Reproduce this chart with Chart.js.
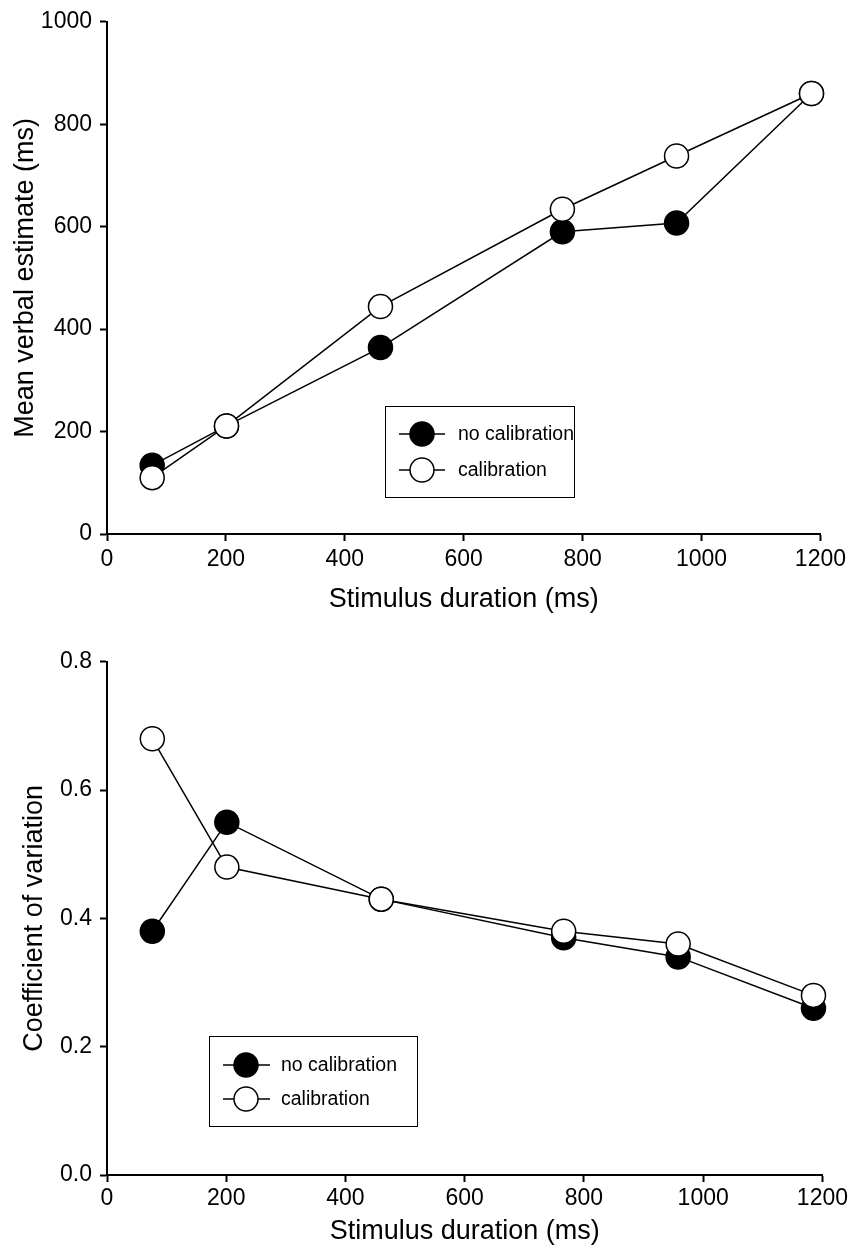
<!DOCTYPE html>
<html><head><meta charset="utf-8">
<script src="https://cdn.jsdelivr.net/npm/chart.js@4.4.1/dist/chart.umd.min.js"></script>
<style>
html,body{margin:0;padding:0;background:#fff;overflow:hidden;width:851px;height:1249px;}
canvas{position:absolute;left:0;}
</style></head><body>
<canvas id="c1" width="851" height="640" style="top:0px;width:851px;height:640px"></canvas>
<canvas id="c2" width="851" height="609" style="top:640px;width:851px;height:609px"></canvas>
<script>
// ---- data ----
const durations = [76, 201, 460, 766, 958, 1185];
const seriesLabels = ['no calibration', 'calibration'];
const estimateNoCal = [134, 211, 364, 590, 607, 860];
const estimateCal   = [110, 211, 444, 634, 738, 860];
const cvNoCal = [0.38, 0.55, 0.43, 0.37, 0.34, 0.26];
const cvCal   = [0.68, 0.48, 0.43, 0.38, 0.36, 0.28];
const xTicks = [0, 200, 400, 600, 800, 1000, 1200];
const yTicksTop = [0, 200, 400, 600, 800, 1000];
const yTicksBottom = [0.0, 0.2, 0.4, 0.6, 0.8];

const FONT = '"Liberation Sans", Arial, Helvetica, sans-serif';

const boxLegend = {
  id: 'boxLegend',
  afterDraw(chart, args, o) {
    const ctx = chart.ctx;
    ctx.save();
    ctx.strokeStyle = '#000';
    ctx.lineWidth = 1;
    ctx.strokeRect(o.left + 0.5, o.top + 0.5, o.width, o.height);
    chart.data.datasets.forEach((ds, i) => {
      const y = o.rows[i];
      ctx.beginPath();
      ctx.lineWidth = ds.borderWidth;
      ctx.strokeStyle = ds.borderColor;
      ctx.moveTo(o.lineX0, y); ctx.lineTo(o.lineX1, y);
      ctx.stroke();
      ctx.beginPath();
      ctx.arc(o.markerX, y, ds.pointRadius, 0, Math.PI * 2);
      ctx.fillStyle = ds.pointBackgroundColor;
      ctx.fill();
      ctx.lineWidth = ds.pointBorderWidth;
      ctx.strokeStyle = ds.pointBorderColor;
      ctx.stroke();
      ctx.fillStyle = '#000';
      ctx.font = o.fontSize + 'px ' + FONT;
      ctx.textAlign = 'left';
      ctx.textBaseline = 'middle';
      ctx.fillText(ds.label, o.textX, y + 1);
    });
    ctx.restore();
  }
};

function ds(label, xs, ys, fill, order) {
  return {
    label,
    data: xs.map((x, i) => ({x, y: ys[i]})),
    borderColor: '#000',
    borderWidth: 1.5,
    pointRadius: 12,
    pointHoverRadius: 12,
    pointBorderWidth: 1.5,
    pointBorderColor: '#000',
    pointBackgroundColor: fill,
    backgroundColor: fill,
    fill: false,
    tension: 0,
    clip: false,
    order
  };
}

function makeChart(id, noCal, cal, yTicks, yTitle, fmt, cfg) {
  new Chart(document.getElementById(id), {
    type: 'line',
    data: {
      datasets: [
        ds(seriesLabels[0], durations, noCal, '#000', 1),
        ds(seriesLabels[1], durations, cal, '#fff', 0)
      ]
    },
    plugins: [boxLegend],
    options: {
      responsive: false,
      animation: false,
      events: [],
      devicePixelRatio: 1,
      layout: {padding: {left: cfg.padLeft, top: cfg.padTop, right: 28, bottom: 0}},
      plugins: {
        legend: {display: false},
        tooltip: {enabled: false},
        boxLegend: cfg.legend
      },
      scales: {
        x: {
          type: 'linear', min: xTicks[0], max: xTicks[xTicks.length - 1],
          afterBuildTicks(s) { s.ticks = xTicks.map(v => ({value: v})); },
          ticks: {color: '#000', font: {size: 23, family: FONT}, padding: cfg.xTickPad, maxRotation: 0, autoSkip: false, callback: v => String(v)},
          grid: {display: true, drawOnChartArea: false, drawTicks: true, tickLength: 7, tickWidth: 2, tickColor: '#000'},
          border: {display: true, color: '#000', width: 2},
          title: {display: true, text: 'Stimulus duration (ms)', color: '#000', font: {size: 27, family: FONT}, padding: {top: 0, bottom: cfg.xTitlePad}},
          afterFit(s) { s.height = cfg.xHeight; }
        },
        y: {
          type: 'linear', min: yTicks[0], max: yTicks[yTicks.length - 1],
          afterBuildTicks(s) { s.ticks = yTicks.map(v => ({value: v})); },
          ticks: {color: '#000', font: {size: 23, family: FONT}, padding: 8, callback: fmt},
          grid: {display: true, drawOnChartArea: false, drawTicks: true, tickLength: 7, tickWidth: 2, tickColor: '#000'},
          border: {display: true, color: '#000', width: 2},
          title: {display: true, text: yTitle, color: '#000', font: {size: 27, family: FONT}, padding: {top: 0, bottom: 0}},
          afterFit(s) { s.width = 107 - cfg.padLeft; }
        }
      }
    }
  });
}

makeChart('c1', estimateNoCal, estimateCal, yTicksTop, 'Mean verbal estimate (ms)', v => String(v), {
  padLeft: 9, padTop: 18, xHeight: 106, xTickPad: 5, xTitlePad: 24,
  legend: {left: 385, top: 406, width: 189, height: 91, rows: [434, 470], lineX0: 399, lineX1: 445, markerX: 422, textX: 458, fontSize: 19.5}
});

makeChart('c2', cvNoCal, cvCal, yTicksBottom, 'Coefficient of variation', v => Number(v).toFixed(1), {
  padLeft: 18, padTop: 19, xHeight: 74, xTickPad: 3, xTitlePad: 1,
  legend: {left: 209, top: 396, width: 208, height: 90, rows: [425, 459], lineX0: 223, lineX1: 270, markerX: 246, textX: 281, fontSize: 19.5}
});
</script>
</body></html>
